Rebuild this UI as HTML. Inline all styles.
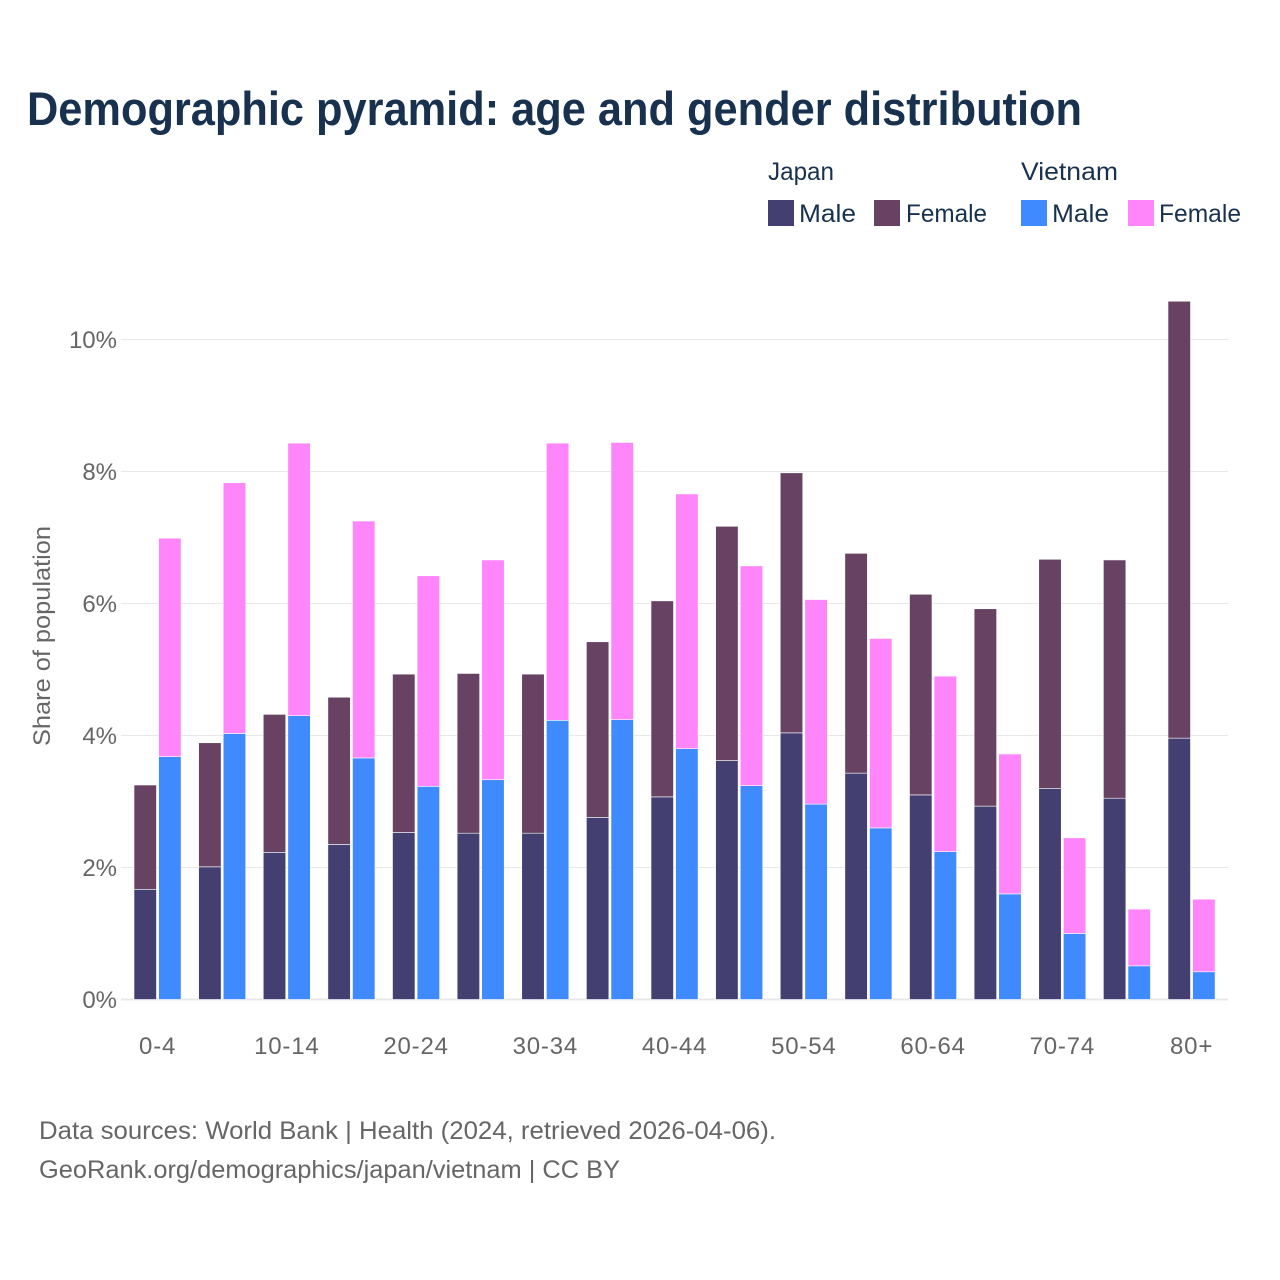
<!DOCTYPE html>
<html lang="en">
<head>
<meta charset="utf-8">
<title>Demographic pyramid: age and gender distribution</title>
<style>
html,body{margin:0;padding:0;background:#fff;}
svg{display:block;font-family:"Liberation Sans",sans-serif;}
.tick{font-size:24px;fill:#666;}
.xtick{letter-spacing:0.8px;}
.leg{font-size:25px;fill:#18314f;}
.foot{font-size:25px;fill:#666;}
</style>
</head>
<body>
<svg id="chart" width="1280" height="1280" viewBox="0 0 1280 1280" xmlns="http://www.w3.org/2000/svg">
  <rect x="0" y="0" width="1280" height="1280" fill="#ffffff"/>
  <text x="27" y="125" font-size="47" font-weight="700" fill="#18314f" textLength="1055" lengthAdjust="spacingAndGlyphs">Demographic pyramid: age and gender distribution</text>

  <g>
    <text class="leg" x="768" y="180" textLength="66" lengthAdjust="spacingAndGlyphs">Japan</text>
    <text class="leg" x="1021" y="180" textLength="97" lengthAdjust="spacingAndGlyphs">Vietnam</text>
    <rect x="768" y="200" width="26" height="26" fill="#433f71"/>
    <text class="leg" x="799" y="222" textLength="57" lengthAdjust="spacingAndGlyphs">Male</text>
    <rect x="874" y="200" width="26" height="26" fill="#684262"/>
    <text class="leg" x="906" y="222" textLength="81" lengthAdjust="spacingAndGlyphs">Female</text>
    <rect x="1021" y="200" width="26" height="26" fill="#408aff"/>
    <text class="leg" x="1052" y="222" textLength="57" lengthAdjust="spacingAndGlyphs">Male</text>
    <rect x="1128" y="200" width="26" height="26" fill="#ff85fa"/>
    <text class="leg" x="1159" y="222" textLength="82" lengthAdjust="spacingAndGlyphs">Female</text>
  </g>

  <g id="grid"></g>
  <g id="bars"></g>
  <g id="yticks"></g>
  <g id="xticks"></g>

  <text transform="translate(50,636) rotate(-90)" text-anchor="middle" font-size="24" fill="#666" textLength="220" lengthAdjust="spacingAndGlyphs">Share of population</text>

  <text class="foot" x="39" y="1139" textLength="737" lengthAdjust="spacingAndGlyphs">Data sources: World Bank | Health (2024, retrieved 2026-04-06).</text>
  <text class="foot" x="39" y="1178" textLength="581" lengthAdjust="spacingAndGlyphs">GeoRank.org/demographics/japan/vietnam | CC BY</text>
</svg>
<script>
const categories = ["0-4","5-9","10-14","15-19","20-24","25-29","30-34","35-39","40-44","45-49","50-54","55-59","60-64","65-69","70-74","75-79","80+"];
const japanMale = [1.67,2.01,2.23,2.35,2.53,2.52,2.52,2.76,3.07,3.62,4.04,3.43,3.10,2.93,3.20,3.05,3.96];
const japanFemale = [1.58,1.88,2.09,2.23,2.40,2.42,2.41,2.66,2.97,3.55,3.94,3.33,3.04,2.99,3.47,3.61,6.62];
const vietnamMale = [3.68,4.03,4.30,3.66,3.23,3.33,4.23,4.24,3.80,3.24,2.96,2.60,2.24,1.60,1.00,0.51,0.42];
const vietnamFemale = [3.31,3.80,4.13,3.59,3.19,3.33,4.20,4.20,3.86,3.33,3.10,2.87,2.66,2.12,1.45,0.86,1.10];
const yTicks = [0,2,4,6,8,10];

const SVGNS = "http://www.w3.org/2000/svg";
const plotLeft = 121, plotRight = 1228;
const yBase = 999.5, pxPerPct = 66;
const groupStart = 134, groupStep = 64.625, barW = 22.5, barGap = 24.6;

function yScale(v){ return yBase - v * pxPerPct; }
function xScale(i, s){ return groupStart + i * groupStep + s * barGap; }

const gridG = document.getElementById("grid");
const barsG = document.getElementById("bars");
const yG = document.getElementById("yticks");
const xG = document.getElementById("xticks");

yTicks.forEach(function(t){
  const line = document.createElementNS(SVGNS, "line");
  line.setAttribute("x1", plotLeft);
  line.setAttribute("x2", plotRight);
  line.setAttribute("y1", yScale(t));
  line.setAttribute("y2", yScale(t));
  line.setAttribute("stroke", "#e8e8e8");
  line.setAttribute("stroke-width", t === 0 ? 2 : 1);
  
  
  gridG.appendChild(line);

  const label = document.createElementNS(SVGNS, "text");
  label.setAttribute("class", "tick");
  label.setAttribute("x", 117);
  label.setAttribute("y", yScale(t) + 8.5);
  label.setAttribute("text-anchor", "end");
  label.textContent = t + "%";
  
  
  yG.appendChild(label);
});

function drawBar(i, s, start, value, fill){
  const r = document.createElementNS(SVGNS, "rect");
  const top = yScale(start + value);
  r.setAttribute("x", xScale(i, s));
  r.setAttribute("y", top);
  r.setAttribute("width", barW);
  r.setAttribute("height", yScale(start) - top);
  r.setAttribute("fill", fill);
  r.setAttribute("stroke", "#ffffff");
  r.setAttribute("stroke-width", 0.6);
  
  
  barsG.appendChild(r);
}

categories.forEach(function(cat, i){
  drawBar(i, 0, 0, japanMale[i], "#433f71");
  drawBar(i, 0, japanMale[i], japanFemale[i], "#684262");
  drawBar(i, 1, 0, vietnamMale[i], "#408aff");
  drawBar(i, 1, vietnamMale[i], vietnamFemale[i], "#ff85fa");
  if (i % 2 === 0) {
    const label = document.createElementNS(SVGNS, "text");
    label.setAttribute("class", "tick xtick");
    label.setAttribute("x", xScale(i, 0) + barGap - 1);
    label.setAttribute("y", 1054);
    label.setAttribute("text-anchor", "middle");
    label.textContent = cat;
    
    
    xG.appendChild(label);
  }
});
</script>
</body>
</html>
